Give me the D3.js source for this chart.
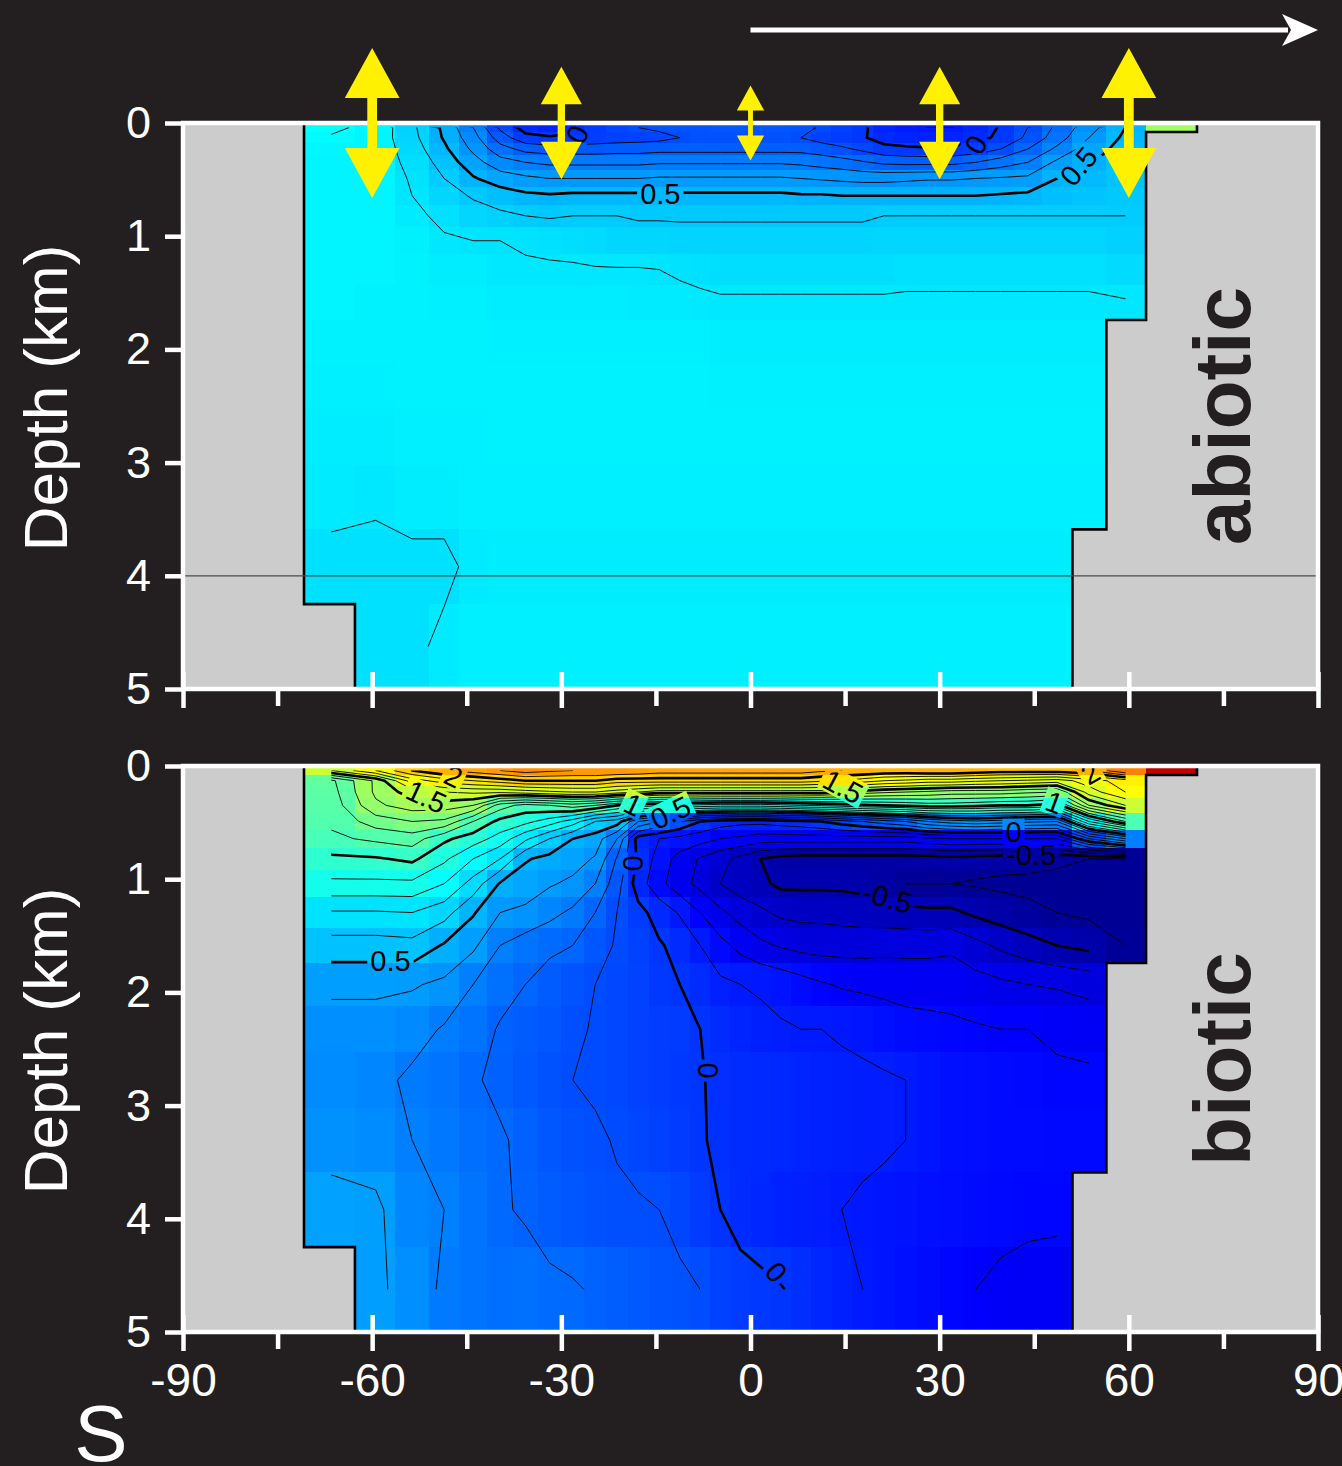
<!DOCTYPE html>
<html>
<head>
<meta charset="utf-8">
<script src="https://cdn.jsdelivr.net/npm/d3@7"></script>
<style>
body { margin: 0; background: #231f20; }
svg { display: block; }
text { font-family: "Liberation Sans", Arial, Helvetica, sans-serif; }
</style>
</head>
<body>
<script>
// ---- grid (equal-area latitude cells, depth layers in km) ----
const latEdges = [-70.81,-62.73,-56.44,-51.06,-46.24,-41.81,-37.67,-33.75,-30.00,-26.39,-22.89,-19.47,-16.13,-12.84,-9.59,-6.38,-3.18,0,
  3.18,6.38,9.59,12.84,16.13,19.47,22.89,26.39,30.00,33.75,37.67,41.81,46.24,51.06,56.44,62.73,70.81];
const latCenters = [-66.44,-59.44,-53.66,-48.59,-43.98,-39.70,-35.69,-31.86,-28.18,-24.62,-21.17,-17.79,-14.48,-11.21,-7.98,-4.78,-1.59,
  1.59,4.78,7.98,11.21,14.48,17.79,21.17,24.62,28.18,31.86,35.69,39.70,43.98,48.59,53.66,59.44,66.44];
const depthEdges = [0,0.08,0.18,0.28,0.415,0.565,0.72,0.92,1.16,1.43,1.74,2.12,2.53,3.02,3.59,4.25,5.0];

// ---- abiotic section, one row per depth layer, one value per latitude cell (null = land) ----
const abiotic = [
  [0.82,0.77,0.62,0.48,0.30,0.08,-0.04,-0.06,-0.03,0.03,0.08,0.10,0.12,0.13,0.13,0.14,0.14,0.14,0.14,0.13,0.09,0.05,0.02,-0.06,-0.09,-0.10,-0.10,-0.06,0.01,0.10,0.22,0.36,0.50,1.43],
  [0.79,0.76,0.63,0.49,0.34,0.15,0.03,0.01,0.02,0.04,0.05,0.06,0.07,0.10,0.12,0.12,0.12,0.12,0.12,0.10,0.06,0.03,0.01,-0.04,-0.06,-0.07,-0.06,-0.03,0.02,0.12,0.25,0.40,0.52,null],
  [0.77,0.76,0.65,0.52,0.38,0.24,0.17,0.15,0.15,0.15,0.16,0.16,0.17,0.17,0.17,0.17,0.17,0.17,0.17,0.17,0.15,0.12,0.08,0.03,0.02,0.01,0.02,0.04,0.10,0.20,0.32,0.45,0.54,null],
  [0.76,0.76,0.67,0.56,0.44,0.34,0.30,0.28,0.28,0.28,0.28,0.28,0.29,0.29,0.29,0.29,0.29,0.29,0.29,0.28,0.26,0.24,0.21,0.18,0.17,0.17,0.17,0.20,0.25,0.30,0.42,0.49,0.56,null],
  [0.76,0.76,0.69,0.60,0.51,0.45,0.42,0.40,0.40,0.40,0.40,0.40,0.41,0.41,0.41,0.41,0.41,0.41,0.41,0.40,0.39,0.38,0.37,0.37,0.38,0.39,0.39,0.40,0.41,0.42,0.50,0.53,0.57,null],
  [0.76,0.76,0.70,0.64,0.59,0.55,0.52,0.51,0.52,0.52,0.52,0.52,0.52,0.52,0.52,0.52,0.52,0.52,0.52,0.51,0.51,0.50,0.50,0.50,0.50,0.50,0.50,0.50,0.51,0.52,0.55,0.57,0.59,null],
  [0.76,0.76,0.72,0.68,0.64,0.62,0.60,0.59,0.60,0.60,0.60,0.59,0.59,0.59,0.59,0.59,0.59,0.59,0.59,0.59,0.59,0.59,0.59,0.60,0.60,0.60,0.60,0.60,0.60,0.60,0.60,0.60,0.60,null],
  [0.76,0.76,0.74,0.71,0.70,0.70,0.69,0.68,0.67,0.66,0.64,0.64,0.64,0.63,0.63,0.63,0.63,0.63,0.63,0.63,0.63,0.63,0.63,0.64,0.64,0.64,0.64,0.64,0.64,0.64,0.64,0.64,0.62,null],
  [0.76,0.76,0.75,0.73,0.73,0.71,0.71,0.71,0.71,0.705,0.705,0.705,0.70,0.69,0.68,0.67,0.67,0.67,0.67,0.67,0.67,0.67,0.67,0.67,0.68,0.68,0.68,0.68,0.68,0.68,0.68,0.68,0.66,null],
  [0.76,0.75,0.75,0.74,0.74,0.73,0.73,0.73,0.73,0.73,0.73,0.72,0.72,0.72,0.715,0.71,0.71,0.71,0.71,0.71,0.71,0.71,0.71,0.71,0.71,0.71,0.71,0.71,0.71,0.71,0.71,0.71,0.705,null],
  [0.75,0.75,0.75,0.75,0.75,0.74,0.74,0.74,0.74,0.74,0.74,0.74,0.74,0.74,0.74,0.73,0.73,0.73,0.73,0.73,0.73,0.73,0.73,0.73,0.73,0.73,0.73,0.73,0.73,0.73,0.73,0.73,null,null],
  [0.74,0.74,0.75,0.75,0.75,0.75,0.75,0.75,0.75,0.75,0.75,0.75,0.75,0.75,0.75,0.74,0.74,0.74,0.74,0.74,0.74,0.74,0.74,0.74,0.74,0.74,0.74,0.74,0.74,0.74,0.74,0.74,null,null],
  [0.73,0.73,0.74,0.74,0.74,0.75,0.75,0.75,0.75,0.75,0.75,0.75,0.75,0.75,0.75,0.75,0.75,0.75,0.75,0.75,0.75,0.75,0.75,0.75,0.75,0.75,0.75,0.75,0.75,0.75,0.75,0.75,null,null],
  [0.72,0.71,0.73,0.73,0.74,0.74,0.74,0.74,0.74,0.74,0.74,0.74,0.74,0.74,0.74,0.74,0.74,0.74,0.74,0.74,0.74,0.74,0.74,0.74,0.74,0.74,0.74,0.74,0.74,0.74,0.74,0.74,null,null],
  [0.68,0.68,0.68,0.68,0.72,0.73,0.73,0.73,0.73,0.73,0.73,0.73,0.73,0.73,0.73,0.73,0.73,0.73,0.73,0.73,0.73,0.73,0.73,0.73,0.73,0.73,0.73,0.73,0.73,0.73,0.73,null,null,null],
  [null,0.68,0.68,0.72,0.74,0.74,0.74,0.74,0.74,0.74,0.74,0.74,0.74,0.74,0.74,0.74,0.74,0.74,0.74,0.74,0.74,0.74,0.74,0.74,0.74,0.74,0.74,0.74,0.74,0.74,0.74,null,null,null]
];

// ---- biotic section ----
const biotic = [
  [1.6,1.8,2.0,2.1,2.15,2.2,2.25,2.22,2.2,2.2,2.2,2.18,2.15,2.15,2.15,2.15,2.15,2.15,2.15,2.15,2.12,2.1,2.1,2.08,2.08,2.1,2.1,2.08,2.05,2.05,2.05,2.1,2.3,3.05],
  [1.18,1.42,1.75,1.85,1.9,1.95,2.0,2.0,2.0,2.0,1.95,1.95,1.95,1.95,1.95,1.95,1.95,1.95,1.95,1.95,1.92,1.9,1.85,1.8,1.78,1.75,1.75,1.72,1.7,1.68,1.65,1.75,1.85,null],
  [1.16,1.42,1.55,1.6,1.62,1.62,1.65,1.68,1.7,1.7,1.65,1.6,1.55,1.55,1.55,1.55,1.55,1.55,1.55,1.55,1.55,1.5,1.45,1.42,1.4,1.38,1.35,1.35,1.35,1.32,1.3,1.65,1.8,null],
  [1.14,1.38,1.45,1.45,1.4,1.15,1.06,1.1,1.15,1.1,1.0,0.95,0.92,0.9,0.87,0.85,0.85,0.85,0.87,0.9,0.92,0.95,0.98,1.0,1.02,1.05,1.05,1.03,1.0,1.0,0.95,1.4,1.6,null],
  [1.12,1.25,1.3,1.28,1.1,0.97,0.93,0.85,0.75,0.6,0.55,0.3,0.2,0.1,0.0,-0.05,-0.07,-0.07,-0.05,-0.03,0.0,0.05,0.1,0.15,0.2,0.3,0.35,0.38,0.35,0.32,0.3,0.8,1.1,null],
  [1.08,1.12,1.15,1.02,0.95,0.86,0.72,0.6,0.5,0.45,0.3,-0.05,-0.1,-0.13,-0.16,-0.2,-0.22,-0.25,-0.25,-0.25,-0.25,-0.25,-0.25,-0.25,-0.25,-0.22,-0.2,-0.2,-0.2,-0.2,-0.2,0.1,0.3,null],
  [0.98,0.99,1.02,0.92,0.8,0.7,0.51,0.47,0.44,0.39,0.19,-0.02,-0.14,-0.24,-0.31,-0.37,-0.43,-0.5,-0.54,-0.55,-0.55,-0.55,-0.55,-0.55,-0.55,-0.55,-0.53,-0.55,-0.56,-0.57,-0.58,-0.6,-0.6,null],
  [0.88,0.88,0.88,0.8,0.66,0.49,0.45,0.41,0.38,0.3,0.14,-0.05,-0.17,-0.26,-0.33,-0.4,-0.45,-0.48,-0.52,-0.52,-0.52,-0.52,-0.53,-0.56,-0.6,-0.6,-0.6,-0.61,-0.62,-0.62,-0.63,-0.63,-0.62,null],
  [0.69,0.69,0.7,0.64,0.51,0.4,0.38,0.33,0.28,0.2,0.1,0.03,-0.04,-0.11,-0.2,-0.28,-0.34,-0.38,-0.42,-0.43,-0.43,-0.44,-0.45,-0.46,-0.47,-0.48,-0.48,-0.52,-0.55,-0.58,-0.6,-0.62,-0.62,null],
  [0.56,0.56,0.57,0.49,0.42,0.3,0.25,0.22,0.2,0.14,0.09,0.05,0.01,-0.03,-0.1,-0.17,-0.23,-0.28,-0.31,-0.33,-0.34,-0.34,-0.34,-0.33,-0.33,-0.33,-0.32,-0.37,-0.42,-0.46,-0.5,-0.53,-0.6,null],
  [0.42,0.42,0.41,0.38,0.3,0.24,0.2,0.16,0.13,0.1,0.08,0.06,0.02,0.0,-0.03,-0.08,-0.1,-0.11,-0.13,-0.16,-0.19,-0.21,-0.22,-0.23,-0.24,-0.24,-0.24,-0.26,-0.28,-0.3,-0.31,-0.33,null,null],
  [0.36,0.36,0.34,0.29,0.25,0.19,0.16,0.14,0.11,0.095,0.08,0.06,0.04,0.03,0.0,-0.03,-0.06,-0.08,-0.09,-0.1,-0.1,-0.11,-0.12,-0.14,-0.16,-0.17,-0.18,-0.19,-0.2,-0.2,-0.22,-0.24,null,null],
  [0.35,0.33,0.28,0.25,0.21,0.18,0.15,0.12,0.1,0.09,0.08,0.06,0.04,0.02,0.005,-0.015,-0.03,-0.04,-0.05,-0.06,-0.07,-0.08,-0.085,-0.09,-0.1,-0.12,-0.14,-0.15,-0.16,-0.17,-0.18,-0.18,null,null],
  [0.37,0.35,0.3,0.27,0.23,0.21,0.18,0.14,0.12,0.11,0.095,0.07,0.05,0.03,0.005,-0.01,-0.03,-0.04,-0.05,-0.06,-0.07,-0.08,-0.085,-0.09,-0.1,-0.12,-0.14,-0.15,-0.16,-0.16,-0.17,-0.17,null,null],
  [0.43,0.42,0.33,0.3,0.25,0.21,0.19,0.16,0.14,0.12,0.11,0.11,0.1,0.07,0.03,0.0,-0.03,-0.05,-0.07,-0.08,-0.09,-0.1,-0.11,-0.12,-0.13,-0.14,-0.15,-0.16,-0.17,-0.18,-0.18,null,null,null],
  [null,0.42,0.36,0.28,0.25,0.23,0.24,0.22,0.21,0.19,0.17,0.15,0.13,0.12,0.1,0.05,0.03,0.02,0.005,-0.02,-0.05,-0.08,-0.1,-0.12,-0.14,-0.16,-0.18,-0.2,-0.22,-0.23,-0.24,null,null,null]
];

// contour labels: [lat, depth, text, angle]
const abioticLabels = [[-27.5,0.10,"0",-65],[-14.3,0.62,"0.5",0],[35.7,0.19,"0",-60],[52.0,0.38,"0.5",-50]];
const bioticLabels = [[-47.1,0.09,"2",25],[-51.4,0.27,"1.5",25],[-18.6,0.34,"1",25],[-12.7,0.41,"0.5",-25],
  [14.7,0.18,"1.5",28],[53.9,0.06,"2",-30],[48.2,0.32,"1",20],[41.7,0.58,"0",0],[44.5,0.78,"-0.5",0],
  [21.7,1.16,"-0.5",15],[-18.6,0.86,"0",90],[-6.7,2.69,"0",90],[4.1,4.47,"0",50],[-57.1,1.72,"0.5",0]];

// exchange arrows above the abiotic panel
const arrowLats = [-60,-30,0,30,60];
const arrowMags = [3,2.25,1.5,2.25,3];

const xTicksMajor = [-90,-60,-30,0,30,60,90];
const xTicksMinor = [-75,-45,-15,15,45,75];
const depthTicks = [0,1,2,3,4,5];
const contourLevels = d3.range(-7, 34).map(i => i / 10);

// ---- drawing ----
const W = 1342, H = 1466;
const n = latCenters.length, m = depthEdges.length - 1;
const depthCenters = d3.pairs(depthEdges, (a, b) => (a + b) / 2);

const svg = d3.select("body").append("svg").attr("width", W).attr("height", H).style("background", "#231f20");
const defs = svg.append("defs");
const x = d3.scaleLinear().domain([-90, 90]).range([183, 1318]);
const jet = d3.scaleLinear().domain([-0.7, -0.2, 0.8, 1.8, 2.8, 3.3])
  .range(["#000080", "#0000ff", "#00ffff", "#ffff00", "#ff0000", "#800000"]).clamp(true);

const panels = [
  {name: "abiotic", top: 123, rows: abiotic, labels: abioticLabels, showX: false, refDepth: 4},
  {name: "biotic", top: 766, rows: biotic, labels: bioticLabels, showX: true, refDepth: null}
];

// contour coords (sample i sits at i+0.5) -> lat / depth
function idxMap(centers, t) {
  const i = t - 0.5;
  const k = Math.max(0, Math.min(centers.length - 2, Math.floor(i)));
  return centers[k] + (i - k) * (centers[k + 1] - centers[k]);
}

// land cells take the nearest ocean value of the same layer (they are clipped out anyway)
function gridValues(rows) {
  const vals = new Array(n * m);
  for (let r = 0; r < m; r++) for (let c = 0; c < n; c++) {
    let v = rows[r][c];
    for (let d = 1; v == null && d < n; d++) {
      if (c - d >= 0 && rows[r][c - d] != null) v = rows[r][c - d];
      else if (c + d < n && rows[r][c + d] != null) v = rows[r][c + d];
    }
    vals[r * n + c] = v;
  }
  return vals;
}

panels.forEach((p, idx) => {
  const y = d3.scaleLinear().domain([0, 5]).range([p.top, p.top + 566]);
  const g = svg.append("g");

  // land background
  g.append("rect").attr("x", x(-90)).attr("y", y(0)).attr("width", x(90) - x(-90)).attr("height", y(5) - y(0)).attr("fill", "#cccccc");

  // cells
  const cells = [];
  p.rows.forEach((row, r) => row.forEach((v, c) => { if (v != null) cells.push({r, c, v}); }));
  g.append("g").selectAll("rect").data(cells).join("rect")
    .attr("x", d => x(latEdges[d.c]))
    .attr("y", d => y(depthEdges[d.r]))
    .attr("width", d => x(latEdges[d.c + 1]) - x(latEdges[d.c]) + 0.6)
    .attr("height", d => y(depthEdges[d.r + 1]) - y(depthEdges[d.r]) + 0.6)
    .attr("fill", d => jet(d.v))
    .attr("shape-rendering", "crispEdges");

  // clip: squares whose four corner samples are ocean
  const bottoms = d3.range(n).map(c => d3.sum(p.rows, row => row[c] != null ? 1 : 0) - 1);
  const clip = defs.append("clipPath").attr("id", "clip" + idx);
  for (let c = 0; c < n - 1; c++) {
    const last = Math.min(bottoms[c], bottoms[c + 1]);
    if (last < 1) continue;
    clip.append("rect")
      .attr("x", x(latCenters[c]) - 0.3).attr("y", y(depthCenters[0]))
      .attr("width", x(latCenters[c + 1]) - x(latCenters[c]) + 0.6)
      .attr("height", y(depthCenters[last]) - y(depthCenters[0]));
  }
  const mask = defs.append("mask").attr("id", "mask" + idx).attr("maskUnits", "userSpaceOnUse")
    .attr("x", 0).attr("y", 0).attr("width", W).attr("height", H);
  mask.append("rect").attr("width", W).attr("height", H).attr("fill", "white");

  // contours
  const vals = gridValues(p.rows);
  const contours = d3.contours().size([n, m]).thresholds(contourLevels.map(l => l + 1e-6))(vals);
  const cg = g.append("g").attr("clip-path", `url(#clip${idx})`).append("g").attr("mask", `url(#mask${idx})`);
  cg.selectAll("path").data(contours).join("path")
    .attr("d", mp => mp.coordinates.map(poly => poly.map(ring =>
      "M" + ring.map(pt => x(idxMap(latCenters, pt[0])).toFixed(2) + "," + y(idxMap(depthCenters, pt[1])).toFixed(2)).join("L")
    ).join("")).join(""))
    .attr("fill", "none")
    .attr("stroke", "#000")
    .attr("stroke-linejoin", "round")
    .attr("stroke-width", (d, i) => Math.round(contourLevels[i] * 10) % 5 === 0 ? 2.6 : 0.9);

  // labels with gaps in the lines
  const lg = g.append("g");
  p.labels.forEach(([lat, dep, txt, ang]) => {
    const tr = `translate(${x(lat)},${y(dep)}) rotate(${ang})`;
    const t = lg.append("text").attr("transform", tr).attr("text-anchor", "middle").attr("dy", "0.36em")
      .attr("font-size", 29).attr("fill", "#000").text(txt);
    const w = t.node().getComputedTextLength();
    mask.append("rect").attr("transform", tr).attr("x", -w / 2 - 3).attr("y", -13).attr("width", w + 6).attr("height", 26).attr("fill", "black");
  });

  // coastline
  const colDepth = bottoms.map(b => depthEdges[b + 1]);
  let d = `M${x(latEdges[0])},${y(0)}V${y(colDepth[0])}`;
  for (let c = 0; c < n; c++) {
    d += `H${x(latEdges[c + 1])}`;
    if (c < n - 1) d += `V${y(colDepth[c + 1])}`;
  }
  d += `V${y(0)}`;
  g.append("path").attr("d", d).attr("fill", "none").attr("stroke", "#000").attr("stroke-width", 2.6);

  if (p.refDepth != null) {
    g.append("line").attr("x1", x(-90)).attr("x2", x(90)).attr("y1", y(p.refDepth)).attr("y2", y(p.refDepth))
      .attr("stroke", "#4a4a4a").attr("stroke-width", 1.2);
  }

  // frame and axes
  g.append("rect").attr("x", x(-90)).attr("y", y(0)).attr("width", x(90) - x(-90)).attr("height", y(5) - y(0))
    .attr("fill", "none").attr("stroke", "#fff").attr("stroke-width", 4.5);

  const ya = g.append("g").attr("transform", `translate(${x(-90)},0)`)
    .call(d3.axisLeft(y).tickValues(depthTicks).tickSize(18).tickPadding(14).tickFormat(d => String(d)));
  ya.select(".domain").remove();
  ya.attr("font-size", 45).attr("font-family", null);
  ya.selectAll("line").attr("stroke", "#fff").attr("stroke-width", 4.5);
  ya.selectAll("text").attr("fill", "#fff");

  const xa = g.append("g").attr("transform", `translate(0,${y(5)})`)
    .call(d3.axisBottom(x).tickValues(xTicksMajor).tickSize(19).tickPadding(12).tickFormat(p.showX ? (v => String(v)) : () => ""));
  xa.select(".domain").remove();
  xa.attr("font-size", 46).attr("font-family", null);
  xa.selectAll("line").attr("y1", -17).attr("stroke", "#fff").attr("stroke-width", 4.5);
  xa.selectAll("text").attr("fill", "#fff");

  const xm = g.append("g").attr("transform", `translate(0,${y(5)})`)
    .call(d3.axisBottom(x).tickValues(xTicksMinor).tickSize(17).tickFormat(() => ""));
  xm.select(".domain").remove();
  xm.selectAll("line").attr("stroke", "#fff").attr("stroke-width", 4.5);

  // axis title and panel name
  g.append("text").attr("transform", `translate(67,${y(2.5) - 8}) rotate(-90)`).attr("text-anchor", "middle")
    .attr("font-size", 62).attr("fill", "#fff").text("Depth (km)");
  g.append("text").attr("transform", `translate(1250,${y(0) + 293}) rotate(-90)`).attr("text-anchor", "middle")
    .attr("font-size", 80).attr("font-weight", "bold").attr("fill", "#231f20").text(p.name);

  // yellow exchange arrows on the abiotic panel
  if (idx === 0) {
    const len = d3.scaleLinear().domain([0, 3]).range([0, 75]);
    const cy = y(0);
    svg.append("g").selectAll("path").data(arrowLats.map((lat, i) => ({lat, L: len(arrowMags[i])}))).join("path")
      .attr("d", a => {
        const cx = x(a.lat), L = a.L, h = L * 2 / 3, w = L * 0.73 / 2, s = L * 0.13 / 2;
        return `M${cx},${cy - L}L${cx + w},${cy - L + h}L${cx + s},${cy - L + h}L${cx + s},${cy + L - h}L${cx + w},${cy + L - h}` +
          `L${cx},${cy + L}L${cx - w},${cy + L - h}L${cx - s},${cy + L - h}L${cx - s},${cy - L + h}L${cx - w},${cy - L + h}Z`;
      })
      .attr("fill", "#fff100");
  }
});

// direction arrow at the top
svg.append("line").attr("x1", x(0)).attr("x2", x(90) - 30).attr("y1", 30).attr("y2", 30)
  .attr("stroke", "#fff").attr("stroke-width", 5);
svg.append("path").attr("d", `M${x(90)},30L${x(90) - 36},14L${x(90) - 27},30L${x(90) - 36},46Z`).attr("fill", "#fff");

svg.append("text").attr("x", 101).attr("y", 1461).attr("text-anchor", "middle").attr("font-size", 80).attr("fill", "#fff").text("S");
</script>
</body>
</html>
